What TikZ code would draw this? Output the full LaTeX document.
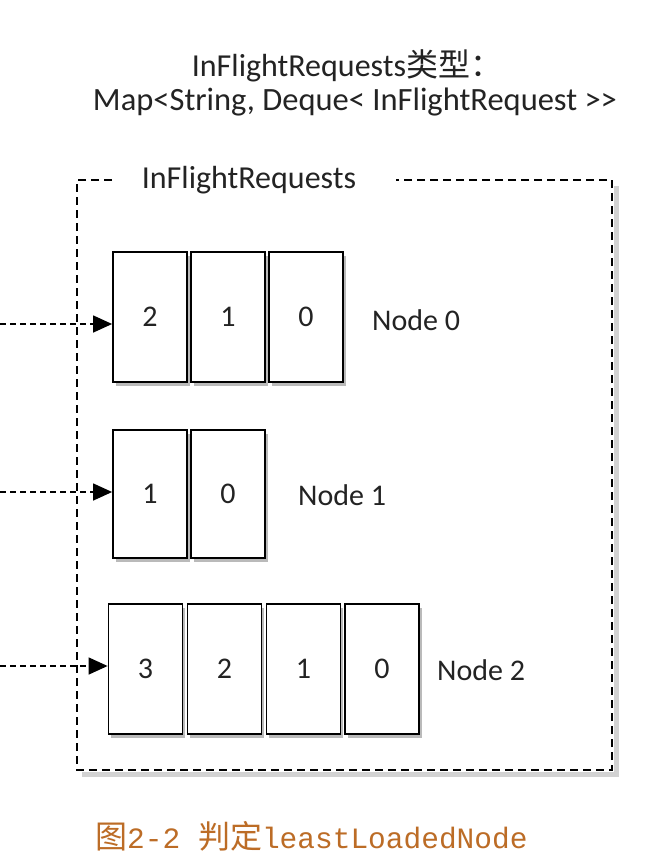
\documentclass[tikz,border=0pt]{standalone}
\usepackage{fontspec}
\setmainfont{Carlito}
\newfontfamily\cjk{Noto Sans CJK SC}
\newfontfamily\capmono{Liberation Mono}
\usetikzlibrary{arrows.meta,shadows,positioning}
\definecolor{inkgray}{RGB}{35,35,35}
\definecolor{capcolor}{RGB}{188,108,38}
\tikzset{
  slot/.style={draw=black, line width=1.8pt, fill=white, minimum width=74pt,
    minimum height=130pt, inner sep=0pt, text=inkgray,
    font=\fontsize{30}{34}\selectfont,
    drop shadow={shadow xshift=2.5pt, shadow yshift=-4pt, fill=black!45, opacity=0.6}},
  nodelabel/.style={anchor=west, inner sep=0pt, text=inkgray, font=\fontsize{30}{34}\selectfont},
  feed/.style={draw=black, line width=1.4pt, dash pattern=on 6pt off 4pt,
    -{Triangle[length=19pt,width=17pt]}},
  frame/.style={draw=black, line width=1.5pt, dash pattern=on 8pt off 5pt},
  titletext/.style={inner sep=0pt, text=inkgray, font=\fontsize{32}{36}\selectfont}
}
\begin{document}
\begin{tikzpicture}[x=1pt, y=-1pt]
  \path[use as bounding box, fill=white] (0,0) rectangle (658,864);

  % heading
  \node[titletext] (title1) at (347,66) {InFlightRequests{\cjk 类型：}};
  \node[titletext, font=\fontsize{32.5}{36}\selectfont] (title2) at (355,102)
    {Map<String, Deque< InFlightRequest >\kern0pt>};

  % dashed container with soft shadow on the right and bottom
  \draw[black!25, line width=5pt, opacity=0.7] (616,186) -- (616,774) -- (82,774);
  \draw[frame] (112,180) -- (77,180) -- (77,770) -- (612,770) -- (612,180) -- (396,180);
  \node[titletext] (maplabel) at (249,180) {InFlightRequests};

  % Node 0 queue
  \node[slot] (n0a) at (150,317) {2};
  \node[slot] (n0b) at (228,317) {1};
  \node[slot] (n0c) at (306,317) {0};
  \node[nodelabel] (lab0) at (372,320) {Node 0};

  % Node 1 queue
  \node[slot, minimum height=128pt] (n1a) at (150,494) {1};
  \node[slot, minimum height=128pt] (n1b) at (228,494) {0};
  \node[nodelabel] (lab1) at (298,495) {Node 1};

  % Node 2 queue
  \node[slot] (n2a) at (145.5,669) {3};
  \node[slot] (n2b) at (224.5,669) {2};
  \node[slot] (n2c) at (303.5,669) {1};
  \node[slot] (n2d) at (382,669) {0};
  \node[nodelabel] (lab2) at (437,670) {Node 2};

  % incoming request pointers
  \coordinate (s0) at (0,324);
  \coordinate (s1) at (0,492);
  \coordinate (s2) at (0,666);
  \draw[feed] (s0) -- (s0 -| n0a.west);
  \draw[feed] (s1) -- (s1 -| n1a.west);
  \draw[feed] (s2) -- (s2 -| n2a.west);

  % caption
  \node[inner sep=0pt, text=capcolor, anchor=west] (caption) at (95,836)
    {{\cjk\fontsize{32}{36}\selectfont 图}{\capmono\fontsize{29.5}{34}\selectfont 2-2 }{\cjk\fontsize{32}{36}\selectfont 判定}{\capmono\fontsize{29.5}{34}\selectfont leastLoadedNode}};
\end{tikzpicture}
\end{document}
